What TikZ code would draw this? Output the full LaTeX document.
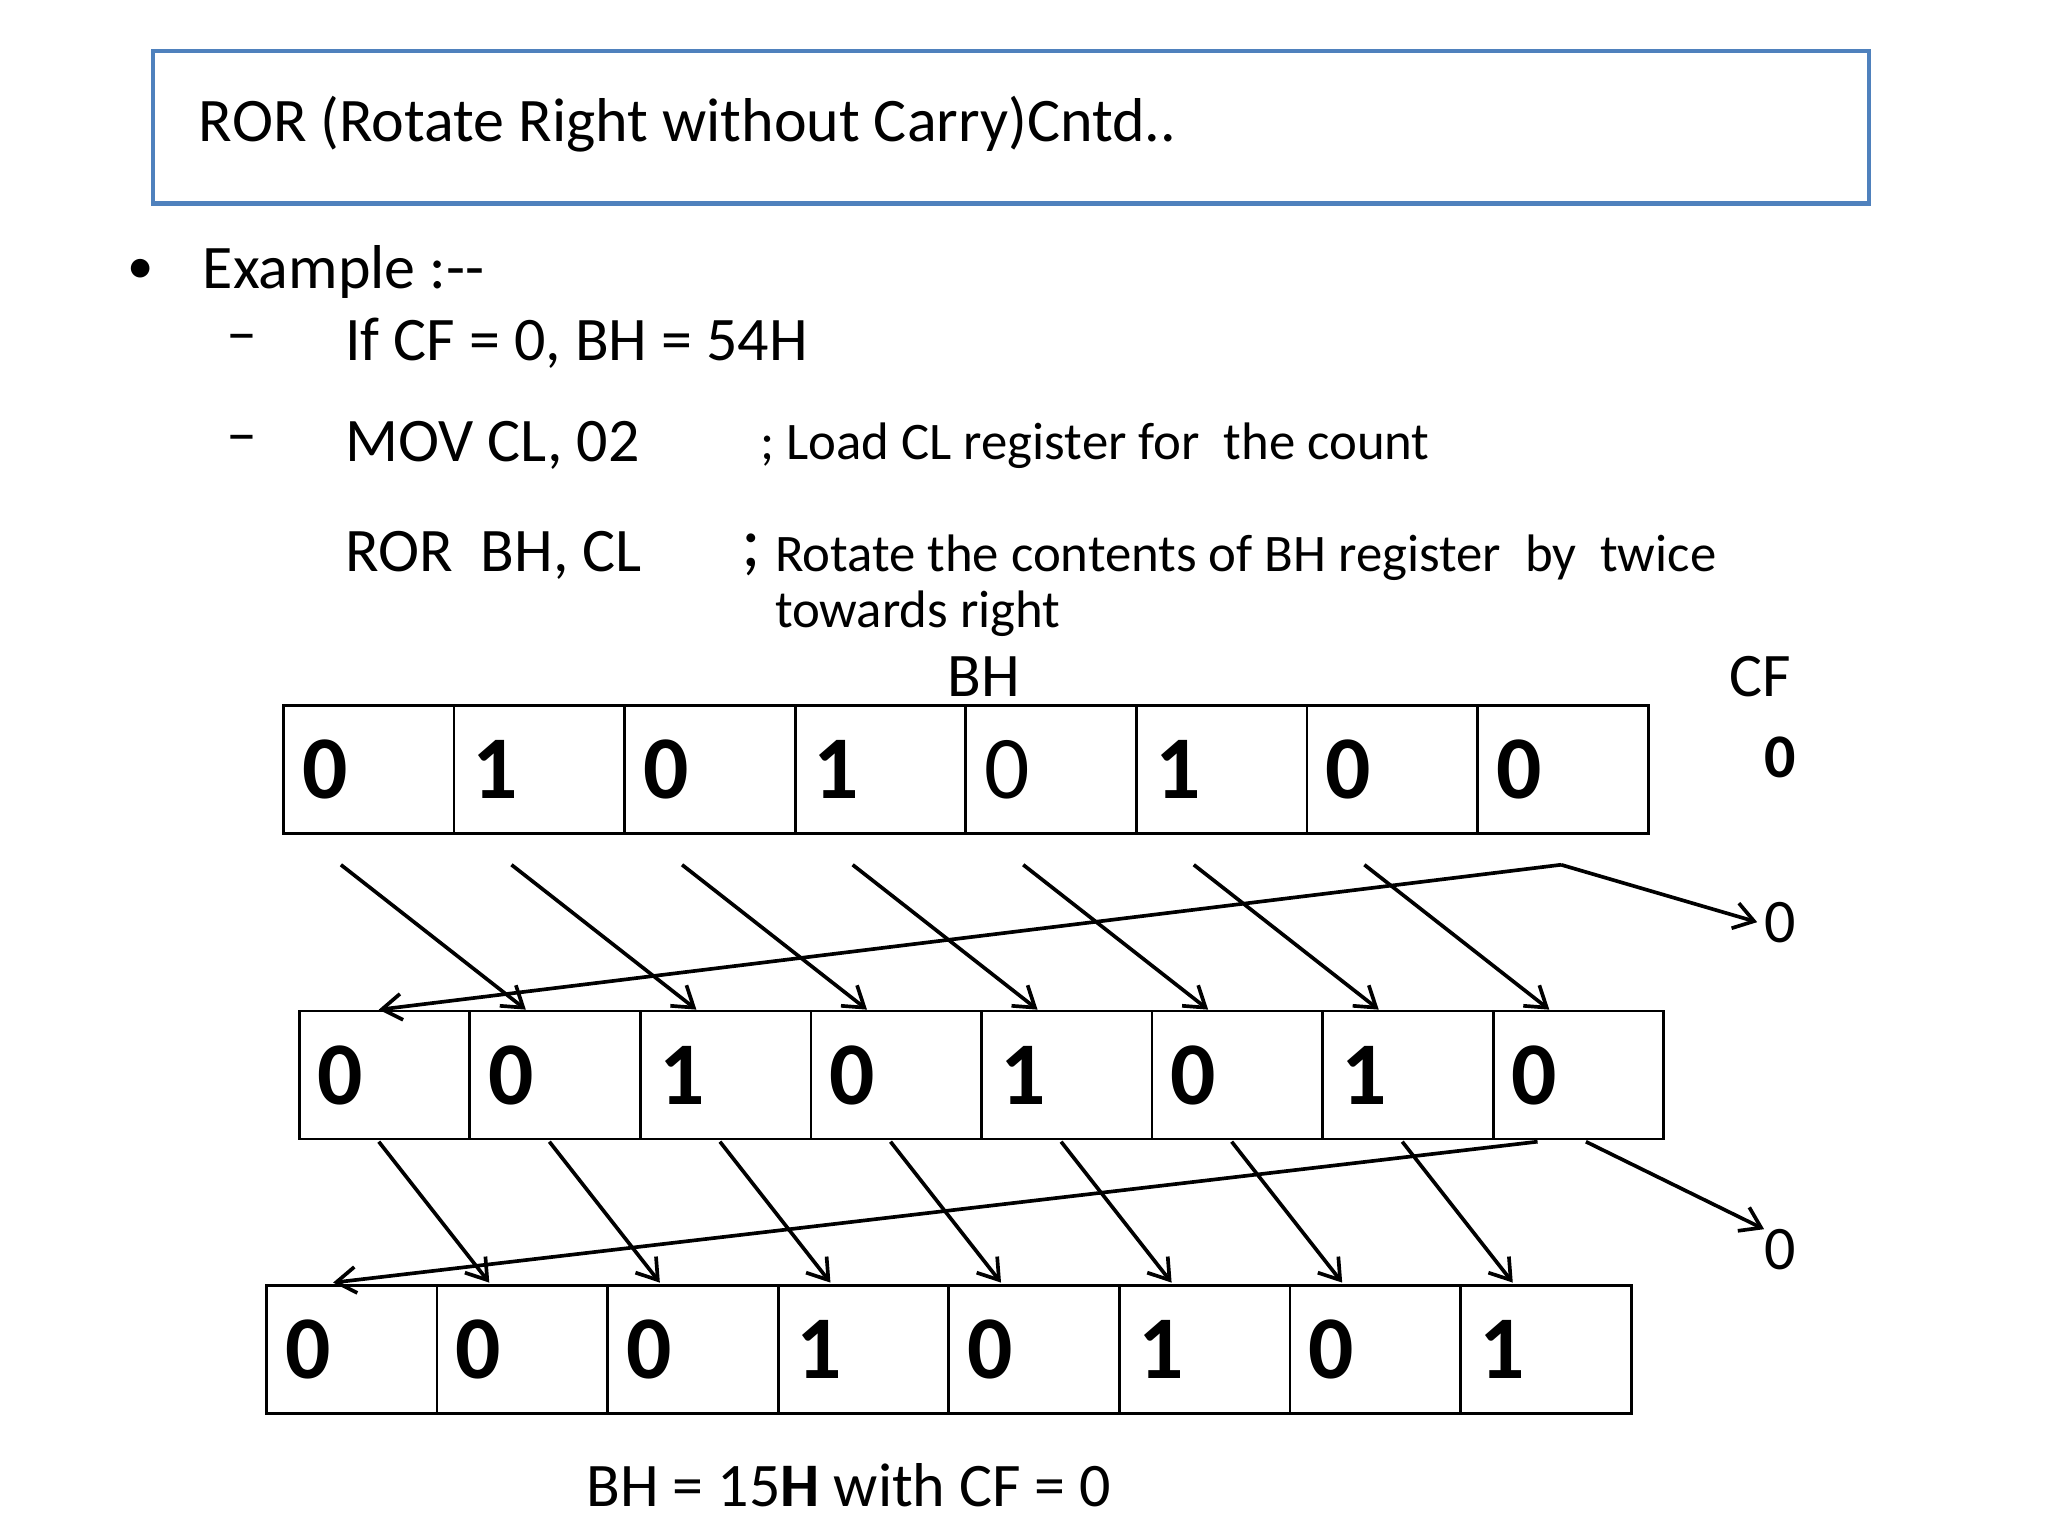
\documentclass[tikz,border=0pt]{standalone}
\usepackage{fontspec}
\setmainfont{Carlito}
\usetikzlibrary{arrows.meta}
\definecolor{titleblue}{RGB}{79,129,189}
\tikzset{
  txt/.style={anchor=west, inner sep=0pt, font=\fontsize{27}{31}\selectfont},
  small/.style={anchor=west, inner sep=0pt, font=\fontsize{23}{27}\selectfont},
  cell/.style={draw, line width=1.2pt, minimum width=2.612cm, minimum height=1.96cm, inner sep=0pt, anchor=north west},
  digit/.style={anchor=west, inner sep=0pt, font=\fontsize{39}{43}\selectfont\bfseries},
  rot/.style={-{Straight Barb[length=3mm,width=4mm]}, line width=1.6pt}
}
\begin{document}
\begin{tikzpicture}[x=0.02cm, y=-0.02cm]
  \useasboundingbox (0,0) rectangle (1568,1176);
  % title
  \draw[titleblue, line width=2pt] (117,39) rectangle (1431,156);
  \node[txt] (title) at (152,95) {ROR (Rotate Right without Carry)Cntd..};

  % text lines
  \node[small] (bul) at (97,208) {\textbullet};
  \node[txt] (ex) at (155,208) {Example :{-}{-}};
  \node[txt] (d1) at (173,263) {\textendash};
  \node[txt] (cf) at (264,263) {If CF = 0, BH = 54H};
  \node[txt] (d2) at (173,341) {\textendash};
  \node[txt] (mov) at (264,341) {MOV CL, 02};
  \node[small] (c1) at (582,341) {; Load CL register for\ \ the count};
  \node[txt] (ror) at (264,425) {ROR\ \ BH, CL};
  \node[txt, font=\fontsize{32}{36}\selectfont] (semi) at (567,425) {;};
  \node[small] (c2) at (593,427) {Rotate the contents of BH register\ \ by\ \ twice};
  \node[small] (c3) at (593,470) {towards right};
  \node[txt, anchor=center] (bh) at (753,518) {BH};
  \node[txt, anchor=center] (cfl) at (1348,518) {CF};
  \node[txt, anchor=center, font=\fontsize{27}{31}\selectfont\bfseries] (cf0) at (1363,580) {0};

  % registers
  \foreach \d [count=\i from 0] in {0,1,0,1,0,1,0,0} {
    \node[cell] (a\i) at (216+130.6*\i,539) {};
    \node[digit] (ad\i) at ([xshift=0.3cm]a\i.west) {\ifnum\i=4 \mdseries\fi\d};
  }
  \foreach \d [count=\i from 0] in {0,0,1,0,1,0,1,0} {
    \node[cell] (b\i) at (228+130.6*\i,773) {};
    \node[digit] (bd\i) at ([xshift=0.3cm]b\i.west) {\d};
  }
  \foreach \d [count=\i from 0] in {0,0,0,1,0,1,0,1} {
    \node[cell] (c\i) at (203+130.6*\i,983) {};
    \node[digit] (cd\i) at ([xshift=0.3cm]c\i.west) {\d};
  }

  % rotations
  \node[txt, anchor=center] (o1) at (1363,706) {0};
  \node[txt, anchor=center] (o2) at (1363,957) {0};
  \foreach \i [evaluate=\i as \j using int(\i+1)] in {0,...,6} {
    \path (a\i.south west) ++(45,23) coordinate (s\i);
    \path (b\j.north west) ++(44,0) coordinate (t\j);
    \draw[rot] (s\i) -- (t\j);
    \path (b\i.south west) ++(62,1) coordinate (u\i);
    \path (c\j.north west) ++(41,-1) coordinate (v\j);
    \draw[rot] (u\i) -- (v\j);
  }
  \path (a7.south west) ++(65,23) coordinate (s7);
  \path (b0.north west) ++(62,0) coordinate (t0);
  \draw[rot] (s7) -- (t0);
  \draw[rot] (s7) -- ([xshift=-3pt]o1.west);
  \path (b7.south west) ++(35,1) coordinate (u7);
  \path (c0.north west) ++(52,-1) coordinate (v0);
  \draw[rot] (u7) -- (v0);
  \path (b7.south west) ++(72,1) coordinate (w7);
  \draw[rot] (w7) -- (o2.north west);

  \node[txt, anchor=center] (res) at (650,1137) {BH = 15\textbf{H} with CF = 0};
\end{tikzpicture}
\end{document}
